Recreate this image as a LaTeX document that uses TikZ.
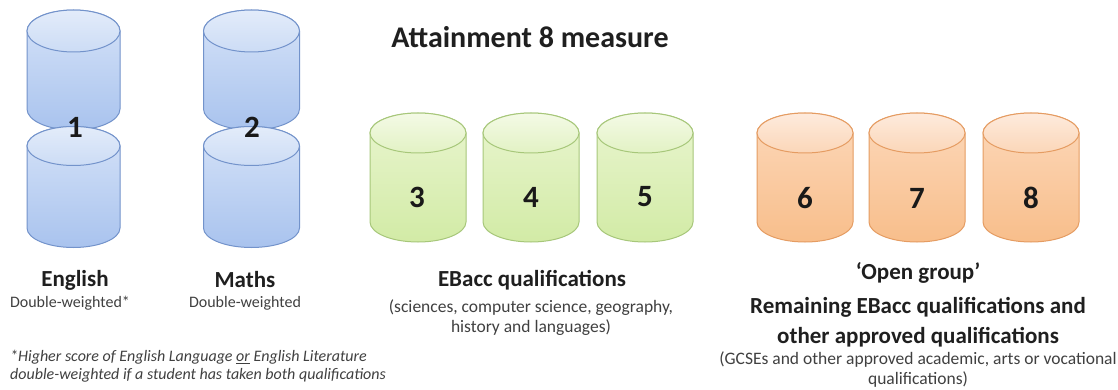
\documentclass[tikz,border=0pt]{standalone}
\usepackage{fontspec}
\setmainfont{Carlito}
\begin{document}
\begin{tikzpicture}[x=1pt,y=-1pt,
  num/.style={font=\fontsize{31}{36}\selectfont\bfseries, text=black!90},
  head/.style={font=\fontsize{23}{27}\selectfont\bfseries, text=black!88},
  sub/.style={font=\fontsize{17.5}{21}\selectfont, text=black!75},
  subs/.style={font=\fontsize{16}{19}\selectfont, text=black!75},
  foot/.style={font=\fontsize{16}{19}\selectfont\itshape, text=black!75, anchor=west, inner sep=0pt}]
\definecolor{bluetop}{HTML}{E3ECFA}
\definecolor{bluetopb}{HTML}{CCDCF5}
\definecolor{bluebodyt}{HTML}{D6E3F8}
\definecolor{bluebodyb}{HTML}{A9C3EE}
\definecolor{blueline}{HTML}{7393CB}
\definecolor{greentop}{HTML}{F4FAE6}
\definecolor{greentopb}{HTML}{E2F2C4}
\definecolor{greenbodyt}{HTML}{E9F5CF}
\definecolor{greenbodyb}{HTML}{D2EBA6}
\definecolor{greenline}{HTML}{A7C77A}
\definecolor{orangetop}{HTML}{FEEBDD}
\definecolor{orangetopb}{HTML}{FBD6B8}
\definecolor{orangebodyt}{HTML}{FCD8BA}
\definecolor{orangebodyb}{HTML}{F8BE8B}
\definecolor{orangeline}{HTML}{E59C62}
\newcommand\drawcyl[6]{% cx, ytop, ybot, rx, ry, colour prefix
  \shade[top color=#6bodyt, bottom color=#6bodyb, draw=#6line, line width=1pt]
    (#1-#4,#2) -- (#1-#4,#3) arc[start angle=180, end angle=0, x radius=#4, y radius=#5]
    -- (#1+#4,#2) arc[start angle=0, end angle=-180, x radius=#4, y radius=#5] -- cycle;
  \shade[top color=#6top, bottom color=#6topb, draw=#6line, line width=1pt]
    (#1,#2) ellipse[x radius=#4, y radius=#5];
}
\useasboundingbox (0,0) rectangle (1118,390);
\fill[white] (0,0) rectangle (1118,390);
% blue double cylinders
\drawcyl{73.5}{31}{109}{46.5}{21}{blue}
\drawcyl{73.5}{146}{228}{46.5}{19.5}{blue}
\drawcyl{251.5}{31}{109}{48}{21}{blue}
\drawcyl{251.5}{146}{228}{48}{19.5}{blue}
% green
\drawcyl{418}{133}{222}{48}{20}{green}
\drawcyl{531}{133}{222}{48}{20}{green}
\drawcyl{645}{133}{222}{48}{20}{green}
% orange
\drawcyl{805}{133}{222}{48}{20}{orange}
\drawcyl{917}{133}{222}{48}{20}{orange}
\drawcyl{1031}{133}{222}{48}{20}{orange}
% numbers
\node[num] (n1) at (75,127) {1};
\node[num] (n2) at (252,127) {2};
\node[num] (n3) at (417,197) {3};
\node[num] (n4) at (531,197) {4};
\node[num] (n5) at (645,197) {5};
\node[num] (n6) at (805,198) {6};
\node[num] (n7) at (917,198) {7};
\node[num] (n8) at (1031,198) {8};
% title
\node[font=\fontsize{30}{35}\selectfont\bfseries, text=black!88] (title) at (530,37) {Attainment 8 measure};
% left labels
\node[head] (eng) at (75,280) {English};
\node[subs] (engsub) at (70,303) {Double-weighted*};
\node[head] (mat) at (245,280) {Maths};
\node[subs] (matsub) at (245,303) {Double-weighted};
\node[foot] (f1) at (10,357) {*Higher score of English Language \underline{or} English Literature};
\node[foot] (f2) at (10,375) {double-weighted if a student has taken both qualifications};
% EBacc
\node[head] (eb) at (532,280) {EBacc qualifications};
\node[sub] (eb1) at (531,308) {(sciences, computer science, geography,};
\node[sub] (eb2) at (531,328) {history and languages)};
% open group
\node[head] (og) at (918,273) {‘Open group’};
\node[head] (og1) at (918,307) {Remaining EBacc qualifications and};
\node[head] (og2) at (918,337) {other approved qualifications};
\node[sub] (og3) at (918,360) {(GCSEs and other approved academic, arts or vocational};
\node[sub] (og4) at (918,380) {qualifications)};
\end{tikzpicture}
\end{document}
